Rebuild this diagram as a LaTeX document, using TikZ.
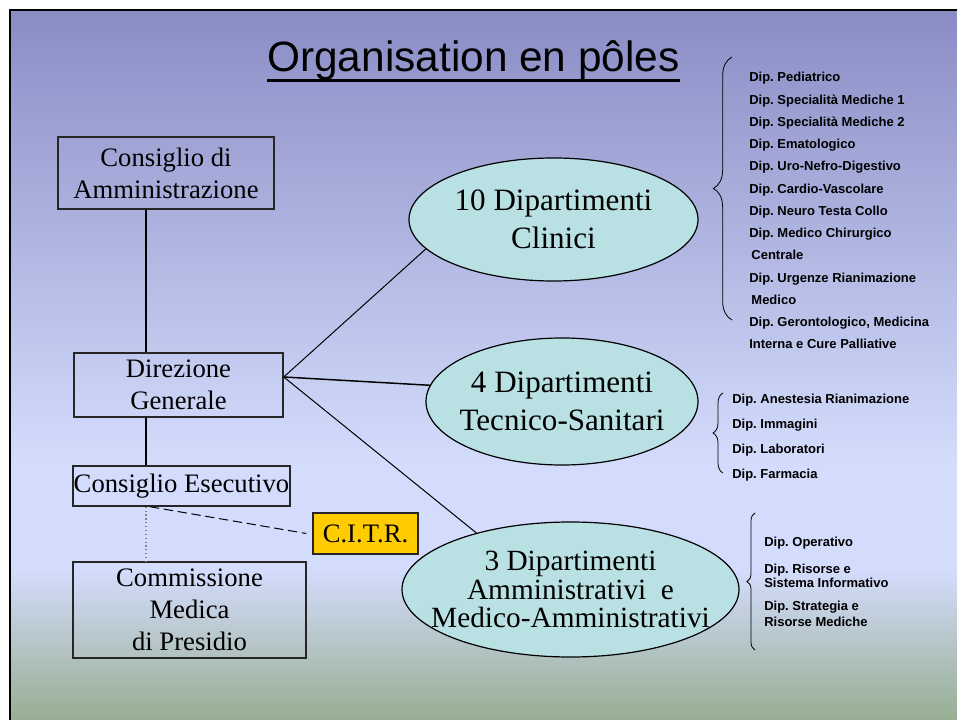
\documentclass[tikz,border=0pt]{standalone}
\usepackage{fontspec}
\setmainfont{Liberation Serif}
\newfontfamily\arialfont{Liberation Sans}
\usetikzlibrary{positioning, calc, shapes.geometric, decorations.pathreplacing}
\frenchspacing

\definecolor{bgtop}{HTML}{8A8DC5}
\definecolor{bgmid}{HTML}{D3DCFC}
\definecolor{bgbot}{HTML}{97AE92}
\definecolor{polefill}{HTML}{B9E0E3}
\definecolor{citrfill}{HTML}{FFCC00}

\begin{document}
\begin{tikzpicture}[x=0.75pt,y=-0.75pt,
    organo/.style={draw=black!85, line width=1.1pt, inner sep=0pt, align=center, font=\fontsize{20}{24}\selectfont},
    pole/.style={ellipse, draw, fill=polefill, line width=0.9pt, inner sep=0pt, align=center},
    dipitem/.style={anchor=base west, inner sep=0pt, font=\arialfont\bfseries\fontsize{9.75}{11}\selectfont},
    curly/.style={decorate, decoration={brace, amplitude=#1}, line width=0.6pt}]
  \useasboundingbox (0,0) rectangle (957,720);
  \shade[top color=bgtop, bottom color=bgmid] (11,11) rectangle (957,461);
  \fill[bgmid] (11,460) rectangle (957,571);
  \shade[top color=bgmid, bottom color=bgbot] (11,570) rectangle (957,720);
  \draw[line width=1.5pt] (10,720) -- (10,10) -- (957,10);

  \node (title) [anchor=base west, inner sep=0pt, font=\arialfont\fontsize{31.8}{36}\selectfont] at (267,72) {Organisation en pôles};
  \draw[line width=2.25pt] ([yshift=-6.75pt]title.base west) -- ([yshift=-6.75pt]title.base east);

  \node (ca) [organo, minimum width=162pt, minimum height=54pt] at (166,173) {Consiglio di\\Amministrazione};
  \node (dg) [organo, minimum width=156.75pt, minimum height=48pt] at (178.5,385) {Direzione\\Generale};
  \node (ce) [organo, minimum width=162.75pt, minimum height=30pt] at (181.5,486) {Consiglio Esecutivo};
  \node (cm) [organo, minimum width=174.75pt, minimum height=72pt] at (189.5,610) {Commissione\\Medica\\di Presidio};
  \node (citr) [organo, fill=citrfill, minimum width=78.75pt, minimum height=30.75pt] at (365.5,533.5) {C.I.T.R.};

  \node (e1) [pole, minimum width=216.75pt, minimum height=92.25pt, font=\fontsize{23.3}{28.5}\selectfont] at (553.5,219.5)
    {\makebox[0pt]{10 Dipartimenti}\\\makebox[0pt]{Clinici}};
  \node (e2) [pole, minimum width=204pt, minimum height=95.25pt, font=\fontsize{23.3}{29}\selectfont] at (562,401.5)
    {\makebox[0pt]{4 Dipartimenti}\\\makebox[0pt]{Tecnico-Sanitari}};
  \node (e3) [pole, minimum width=252.75pt, minimum height=101.25pt, font=\fontsize{22}{21.6}\selectfont] at (570.5,589.5)
    {\makebox[0pt]{3 Dipartimenti}\\\makebox[0pt]{Amministrativi\ \ e}\\\makebox[0pt]{Medico-Amministrativi}};

  \coordinate (spine) at (146,0);
  \draw[line width=1.5pt] (ca.south -| spine) -- (dg.north -| spine);
  \draw[line width=1.5pt] (dg.south -| spine) -- (ce.north -| spine);
  \draw[dotted, gray, line width=0.9pt] (ce.south -| spine) -- (cm.north -| spine);
  \draw[dash pattern=on 7pt off 3.5pt, line width=0.75pt] ($(ce.south -| spine)+(4,0)$) -- ([xshift=-4.5pt]citr.west);

  \coordinate (hub) at ([yshift=6pt]dg.east);
  \draw[line width=0.75pt] (hub) -- (e1.193.5);
  \draw[line width=1.1pt] (hub) -- (e2.173.5);
  \draw[line width=0.75pt] (hub) -- (e3.149.4);

  \draw[curly=14pt] (732,320) -- (732,57);
  \draw[curly=7.5pt] (723,473) -- (723,393);
  \draw[curly=6pt] (755,650) -- (755,513);

  \foreach \txt [count=\k from 0] in {Dip. Pediatrico, Dip. Specialità Mediche 1, Dip. Specialità Mediche 2,
      Dip. Ematologico, Dip. Uro-Nefro-Digestivo, Dip. Cardio-Vascolare, Dip. Neuro Testa Collo,
      Dip. Medico Chirurgico, {\,Centrale}, Dip. Urgenze Rianimazione, {\,Medico},
      {Dip. Gerontologico, Medicina}, Interna e Cure Palliative} {
    \node (clin\k) [dipitem] at (749,82+22.25*\k) {\txt};
  }
  \foreach \txt [count=\k from 0] in {Dip. Anestesia Rianimazione, Dip. Immagini, Dip. Laboratori, Dip. Farmacia} {
    \node (tecn\k) [dipitem] at (732,403.5+25*\k) {\txt};
  }
  \foreach \y/\txt [count=\k] in {546/Dip. Operativo, 573/Dip. Risorse e, 587/Sistema Informativo,
      610/Dip. Strategia e, 626/Risorse Mediche} {
    \node (ammi\k) [dipitem] at (764,\y) {\txt};
  }
\end{tikzpicture}
\end{document}
